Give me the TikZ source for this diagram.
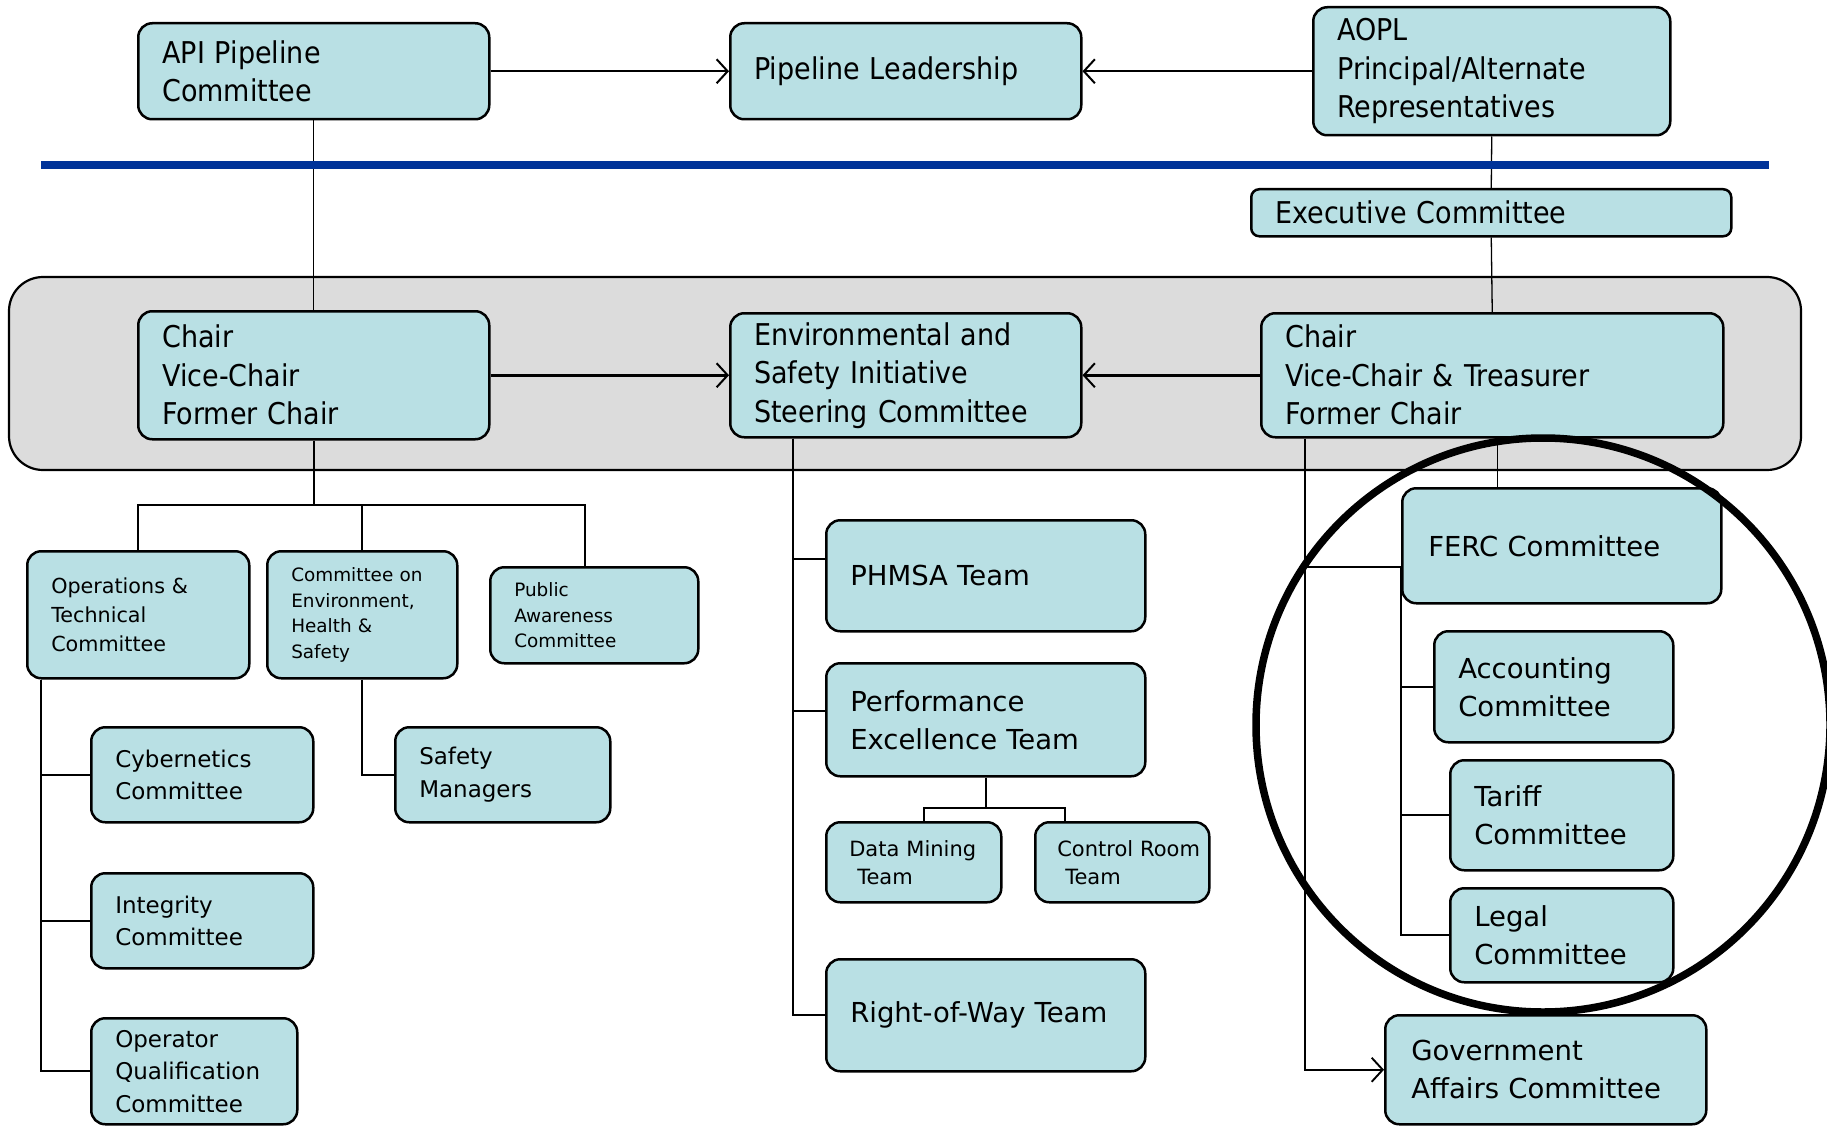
\documentclass[tikz,border=0pt]{standalone}
\usepackage{fontspec}
\setmainfont{DejaVu Sans}
\newfontfamily\narrowfont{DejaVu Sans}[FakeStretch=0.9]
\usetikzlibrary{positioning,calc,arrows.meta}

\definecolor{unitfill}{RGB}{185,224,228}
\definecolor{bandgray}{RGB}{220,220,220}
\definecolor{ruleblue}{RGB}{0,51,153}

\newcommand{\headfont}{\narrowfont\fontsize{30}{38.5}\selectfont}
\newcommand{\teamfont}{\fontsize{27.5}{38}\selectfont}
\newcommand{\childfont}{\fontsize{23}{32.5}\selectfont}
\newcommand{\opsfont}{\fontsize{20.7}{29}\selectfont}
\newcommand{\minorfont}{\fontsize{18.4}{25.6}\selectfont}
\newcommand{\pairfont}{\fontsize{21}{28}\selectfont}

\begin{document}
\begin{tikzpicture}[
x=1pt, y=-1pt,
unit/.style={draw=black, line width=2.5pt, rounded corners=14pt, fill=unitfill,
  anchor=north west, inner xsep=24pt, inner ysep=0pt, align=left},
link/.style={line width=2pt},
thinlink/.style={line width=1.3pt},
feed/.style={line width=2.5pt, -{Straight Barb[length=11pt,width=24pt,line width=2pt]}},
]
\useasboundingbox (0,0) rectangle (1827,1126);

% grey band behind the officers
\draw[line width=2.2pt, fill=bandgray, rounded corners=34pt] (9,277) rectangle (1801,470);

% top row
\node[unit, font=\headfont, minimum width=351pt, minimum height=96pt, text width=303pt] (api) at (137,22) {API Pipeline\\Committee};
\node[unit, font=\headfont, minimum width=351pt, minimum height=96pt, text width=303pt] (lead) at (729,22) {Pipeline Leadership};
\node[unit, font=\headfont, minimum width=357pt, minimum height=128pt, text width=309pt] (aopl) at (1312,6) {AOPL\\Principal/Alternate\\Representatives};
\node[unit, font=\headfont, rounded corners=8pt, minimum width=480pt, minimum height=47pt, text width=432pt] (exec) at (1250,188) {Executive Committee};

% officers
\node[unit, font=\headfont, minimum width=351pt, minimum height=128pt, text width=303pt] (chairL) at (137,310) {Chair\\Vice-Chair\\Former Chair};
\node[unit, font=\headfont, minimum width=351pt, minimum height=124pt, text width=303pt] (env) at (729,312) {Environmental and\\Safety Initiative\\Steering Committee};
\node[unit, font=\headfont, minimum width=462pt, minimum height=124pt, text width=414pt] (chairR) at (1260,312) {Chair\\Vice-Chair \& Treasurer\\Former Chair};

% left branch
\node[unit, font=\opsfont, minimum width=222pt, minimum height=127pt, text width=174pt] (ops) at (26,550) {Operations \&\\Technical\\Committee};
\node[unit, font=\minorfont, minimum width=190pt, minimum height=127pt, text width=142pt] (ceh) at (266,550) {Committee on\\Environment,\\Health \&\\Safety};
\node[unit, font=\minorfont, minimum width=208pt, minimum height=96pt, text width=160pt] (pub) at (489,566) {Public\\Awareness\\Committee};
\node[unit, font=\childfont, minimum width=222pt, minimum height=95pt, text width=174pt] (cyb) at (90,726) {Cybernetics\\Committee};
\node[unit, font=\childfont, minimum width=222pt, minimum height=95pt, text width=174pt] (integ) at (90,872) {Integrity\\Committee};
\node[unit, font=\childfont, minimum width=206pt, minimum height=106pt, text width=158pt] (oper) at (90,1017) {Operator\\Qualification\\Committee};
\node[unit, font=\childfont, minimum width=215pt, minimum height=95pt, text width=167pt] (safe) at (394,726) {Safety\\Managers};

% middle branch
\node[unit, font=\teamfont, minimum width=319pt, minimum height=111pt, text width=271pt] (phmsa) at (825,519) {PHMSA Team};
\node[unit, font=\teamfont, minimum width=319pt, minimum height=113pt, text width=271pt] (perf) at (825,662) {Performance\\Excellence Team};
\node[unit, font=\pairfont, inner xsep=4pt, minimum width=175pt, minimum height=80pt, text width=167pt] (data) at (825,821) {\hspace*{19pt}Data Mining\\\hspace*{27pt}Team};
\node[unit, font=\pairfont, inner xsep=4pt, minimum width=174pt, minimum height=80pt, text width=166pt] (ctrl) at (1034,821) {\hspace*{18pt}Control Room\\\hspace*{26pt}Team};
\node[unit, font=\teamfont, minimum width=319pt, minimum height=112pt, text width=271pt] (row) at (825,958) {Right-of-Way Team};

% right branch
\node[unit, font=\teamfont, inner xsep=26pt, minimum width=319pt, minimum height=115pt, text width=267pt] (ferc) at (1401,487) {FERC Committee};
\node[unit, font=\teamfont, minimum width=239pt, minimum height=111pt, text width=191pt] (acc) at (1433,630) {Accounting\\Committee};
\node[unit, font=\teamfont, minimum width=223pt, minimum height=110pt, text width=175pt] (tar) at (1449,759) {Tariff\\Committee};
\node[unit, font=\teamfont, minimum width=223pt, minimum height=94pt, text width=175pt] (leg) at (1449,887) {Legal\\Committee};
\node[unit, font=\teamfont, inner xsep=26pt, minimum width=321pt, minimum height=109pt, text width=269pt] (gov) at (1384,1014) {Government\\Affairs Committee};

% arrows between the boxes of a row
\draw[feed] (api.east) -- (lead.west);
\draw[feed] (aopl.west) -- (lead.east);
\draw[feed] (chairL.east) -- (env.west);
\draw[feed] (chairR.west) -- (env.east);

% verticals down from the top row
\draw[thinlink] (api.south) -- (chairL.north);
\draw[thinlink] (aopl.south) -- (exec.north);
\draw[thinlink] (exec.south) -- (chairR.north);

% left tree
\coordinate (busL) at ($(chairL.south)+(0,64)$);
\draw[link] (chairL.south) -- (busL);
\draw[link] (busL) -| (ops.north);
\draw[link] (busL) -| ([xshift=-9pt]pub.north);
\draw[link] (ceh.north) -- (ceh.north |- busL);
\coordinate (spO) at ([xshift=15pt]ops.south west);
\draw[link] (spO) |- (cyb.west);
\draw[link] (spO) |- (integ.west);
\draw[link] (spO) |- (oper.west);
\draw[link] (ceh.south) |- (safe.west);

% middle tree
\coordinate (spE) at ([xshift=64pt]env.south west);
\draw[link] (spE) |- ([yshift=17pt]phmsa.west);
\draw[link] (spE) |- ([yshift=9pt]perf.west);
\draw[link] (spE) |- (row.west);
\coordinate (busP) at ($(perf.south)+(0,30)$);
\draw[link] (perf.south) -- (busP);
\draw[link] (busP) -| ([xshift=10pt]data.north);
\draw[link] (busP) -| ([xshift=-57pt]ctrl.north);

% right tree
\coordinate (spR) at ([xshift=45pt]chairR.south west);
\coordinate (fercin) at ([yshift=-21pt]ferc.west);
\coordinate (fercup) at ([xshift=5pt]chairR.south);
\draw[thinlink] (fercup) -- (fercup |- ferc.north);
\draw[line width=2.2pt, -{Straight Barb[length=11pt,width=24pt,line width=1.9pt]}] (spR) |- (gov.west);
\draw[link] (spR |- fercin) -- (fercin);
\draw[link] (fercin) |- (acc.west);
\draw[link] (fercin) |- (tar.west);
\draw[link] (fercin) |- (leg.west);

% blue rule
\draw[line width=8pt, ruleblue] (41,165) -- (1769,165);

% circle round the FERC group
\draw[line width=7.5pt] (1543,725) circle[radius=287pt];
\end{tikzpicture}
\end{document}
